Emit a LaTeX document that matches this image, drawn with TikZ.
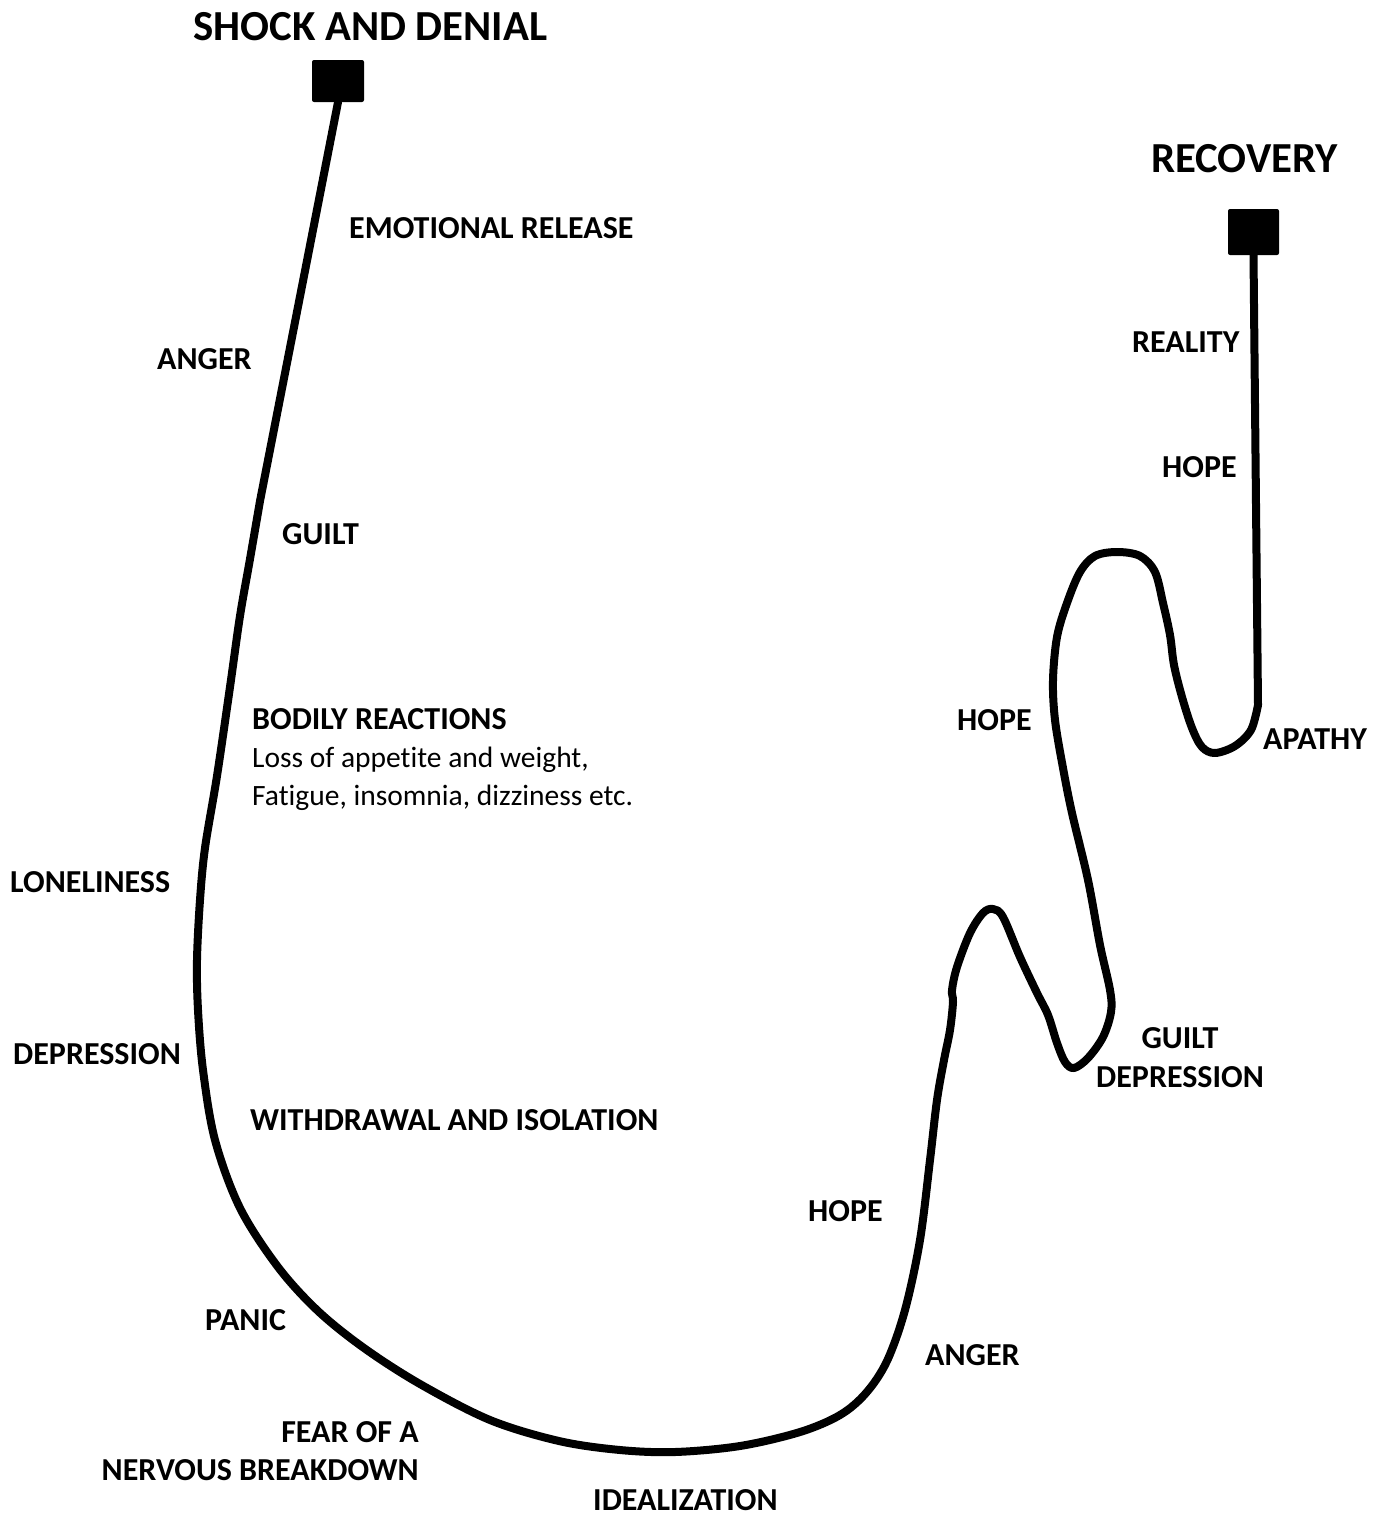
\documentclass[tikz,border=0pt]{standalone}
\usepackage{fontspec}
\setmainfont{Carlito}[Ligatures=NoCommon]
\begin{document}
\begin{tikzpicture}[x=1pt,y=-1pt,
  lbl/.style={inner sep=0pt, anchor=base west, font=\bfseries\fontsize{32}{38}\selectfont},
  body/.style={inner sep=0pt, anchor=base west, font=\fontsize{29.5}{35}\selectfont},
  ttl/.style={inner sep=0pt, anchor=base west, font=\bfseries\fontsize{42.8}{50}\selectfont},
  endbox/.style={fill=black, draw=none, rounded corners=2pt, inner sep=0pt},
  curve/.style={line width=8pt, line join=round, line cap=round}]
\fill[white] (0,0) rectangle (1387,1515);
\useasboundingbox (0,0) rectangle (1387,1515);

% end boxes
\node[endbox, minimum width=52pt, minimum height=42pt] (shock) at (338,81) {};
\node[endbox, minimum width=51pt, minimum height=46pt] (recovery) at (1253.5,232) {};

% curve
\coordinate (k1) at (260,501);
\draw[curve] (shock.south) -- (k1) -- plot[smooth, tension=0.55] coordinates {
 (260,501) (250,559) (240,616) (230,687) (217,776) (205,848) (200,900) (197,960)
 (198,1010) (203,1070) (215,1140) (240,1208) (278,1267) (318,1311) (364,1348)
 (420,1384) (490,1420) (559,1441) (620,1450) (675,1452) (740,1446) (800,1432)
 (840,1415) (866,1393) (887,1361) (905,1310) (920,1240) (930,1160) (937,1100)
 (944,1060) (950,1030) (953,1002) (952,990) (957,967) (970,933) (983,913)
 (993,909) (1003,917) (1020,957) (1037,993) (1048,1015) (1057,1043) (1065,1062)
 (1074,1068) (1088,1058) (1103,1037) (1111,1012) (1110,990) (1100,945)
 (1088,880) (1072,813) (1063,768) (1055,720) (1053,680) (1057,637) (1067,603)
 (1080,572) (1095,556) (1117,552) (1140,556) (1155,572) (1163,603) (1170,635)
 (1174,665) (1182,697) (1192,728) (1202,747) (1215,753) (1235,746) (1251,730)
 (1258,705) } -- (recovery.south);

% titles
\node[ttl] (tshock) at (193,40) {SHOCK AND DENIAL};
\node[ttl] (trec) at (1151,172) {RECOVERY};

% labels
\node[lbl] (l1) at (349,238) {EMOTIONAL RELEASE};
\node[lbl] (l2) at (157,369) {ANGER};
\node[lbl] (l3) at (282,544) {GUILT};
\node[lbl] (l4) at (252,729) {BODILY REACTIONS};
\node[body] (l4a) at (252,767) {Loss of appetite and weight,};
\node[body] (l4b) at (252,805) {Fatigue, insomnia, dizziness etc.};
\node[lbl] (l5) at (10,892) {LONELINESS};
\node[lbl] (l6) at (13,1064) {DEPRESSION};
\node[lbl] (l7) at (250,1130) {WITHDRAWAL AND ISOLATION};
\node[lbl] (l8) at (808,1221) {HOPE};
\node[lbl] (l9) at (205,1330) {PANIC};
\node[lbl] (l10) at (925,1365) {ANGER};
\node[lbl, anchor=base east] (l11) at (419,1442) {FEAR OF A};
\node[lbl, anchor=base east] (l12) at (419,1480) {NERVOUS BREAKDOWN};
\node[lbl] (l13) at (593,1510) {IDEALIZATION};
\node[lbl] (l14) at (957,730) {HOPE};
\node[lbl] (l15) at (1263,749) {APATHY};
\node[lbl, anchor=base] (l16) at (1180,1048) {GUILT};
\node[lbl, anchor=base] (l17) at (1180,1087) {DEPRESSION};
\node[lbl] (l18) at (1132,352) {REALITY};
\node[lbl] (l19) at (1162,477) {HOPE};
\end{tikzpicture}
\end{document}
